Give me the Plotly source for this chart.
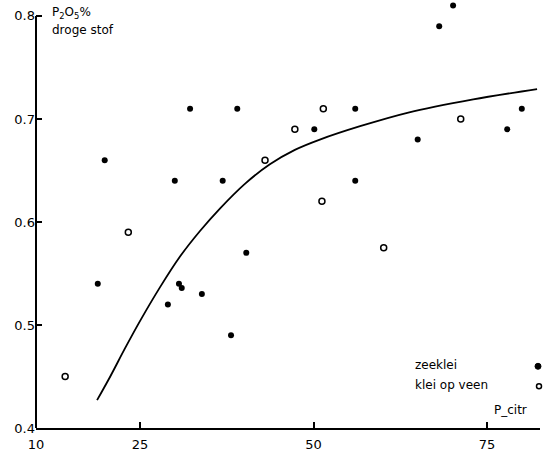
import plotly.graph_objects as go

# zeeklei (filled)
zk_x = [18.9, 19.9, 29.0, 30.0, 30.6, 31.0, 33.9, 40.3, 38.1, 32.2, 39.0, 36.9, 50.1, 56.0, 56.0, 65.0, 68.1, 70.1, 77.9, 80.0]
zk_y = [0.54, 0.66, 0.52, 0.64, 0.54, 0.536, 0.53, 0.57, 0.49, 0.71, 0.71, 0.64, 0.69, 0.71, 0.64, 0.68, 0.79, 0.81, 0.69, 0.71]
# klei op veen (open)
kv_x = [14.2, 23.3, 43.0, 47.3, 51.2, 51.4, 60.1, 71.2]
kv_y = [0.45, 0.59, 0.66, 0.69, 0.62, 0.71, 0.575, 0.70]
# fitted curve
cx = [18.8, 20.7, 22.8, 25.0, 27.9, 30.7, 33.6, 36.5, 40.1, 43.7, 47.3, 50.9, 56.7, 63.5, 73.0, 82.2]
cy = [0.427, 0.450, 0.477, 0.504, 0.537, 0.566, 0.591, 0.613, 0.637, 0.656, 0.670, 0.680, 0.693, 0.706, 0.719, 0.729]

xticks = [10, 25, 50, 75]
yticks = [0.4, 0.5, 0.6, 0.7, 0.8]
ytick_text = ["0.4", "0.5", "0.6", "0.7", "0.8"]

W, H = 545, 452
L, R, T, B = 36, 5, 0, 22
pw, ph = W - L - R, H - T - B
ypp = 1035.0  # pixels per unit y
y_top = 0.4 + ph / ypp

def px(x):
    return (x - L) / pw

def py(y):
    return (H - B - y) / ph

font = dict(family="DejaVu Sans", size=12, color="black")

fig = go.Figure()
fig.add_trace(go.Scatter(x=cx, y=cy, mode="lines", line=dict(color="black", width=1.8, shape="spline", smoothing=0.8),
                         showlegend=False, hoverinfo="skip"))
fig.add_trace(go.Scatter(x=zk_x, y=zk_y, mode="markers", name="zeeklei",
                         marker=dict(symbol="circle", size=6, color="black"), cliponaxis=False))
fig.add_trace(go.Scatter(x=kv_x, y=kv_y, mode="markers", name="klei op veen",
                         marker=dict(symbol="circle-open", size=6, color="black", line=dict(width=1.5)),
                         cliponaxis=False))

annotations = [
    dict(text="P<sub>2</sub>O<sub>5</sub>%", x=px(50), y=py(13), xanchor="left", yanchor="middle"),
    dict(text="droge stof", x=px(50), y=py(30), xanchor="left", yanchor="middle"),
    dict(text="zeeklei", x=px(413), y=py(367), xanchor="left", yanchor="middle"),
    dict(text="klei op veen", x=px(413), y=py(387), xanchor="left", yanchor="middle"),
    dict(text="P_citr", x=px(510), y=py(412), xanchor="center", yanchor="middle"),
]
for a in annotations:
    a.update(xref="paper", yref="paper", showarrow=False, font=font)

shapes = [
    # y axis line from 0.4 to 0.8 only
    dict(type="line", xref="paper", yref="y", x0=0, x1=0, y0=0.4, y1=0.8,
         line=dict(color="black", width=2)),
    dict(type="circle", xref="paper", yref="paper", xsizemode="pixel", ysizemode="pixel",
         xanchor=px(538), yanchor=py(368), x0=-3, x1=3, y0=-3, y1=3,
         fillcolor="black", line=dict(color="black", width=1)),
    dict(type="circle", xref="paper", yref="paper", xsizemode="pixel", ysizemode="pixel",
         xanchor=px(539), yanchor=py(388), x0=-2.5, x1=2.5, y0=-2.5, y1=2.5,
         fillcolor="white", line=dict(color="black", width=1.5)),
]

fig.update_layout(
    width=W, height=H, margin=dict(l=L, r=R, t=T, b=B),
    paper_bgcolor="white", plot_bgcolor="white",
    showlegend=False, font=font,
    annotations=annotations, shapes=shapes,
)
fig.update_xaxes(range=[10, 10 + pw / 6.94], showgrid=False, zeroline=False, showline=True,
                 linecolor="black", linewidth=2, ticks="inside", ticklen=6, tickwidth=2,
                 tickcolor="black", tickvals=xticks, ticktext=[str(v) for v in xticks],
                 tickfont=dict(family="DejaVu Sans", size=13, color="black"), ticklabelstandoff=3)
fig.update_yaxes(range=[0.4, y_top], showgrid=False, zeroline=False, showline=False,
                 ticks="inside", ticklen=6, tickwidth=2,
                 tickcolor="black", tickvals=yticks, ticktext=ytick_text,
                 tickfont=dict(family="DejaVu Sans", size=13, color="black"))

fig.write_html("out.html")
